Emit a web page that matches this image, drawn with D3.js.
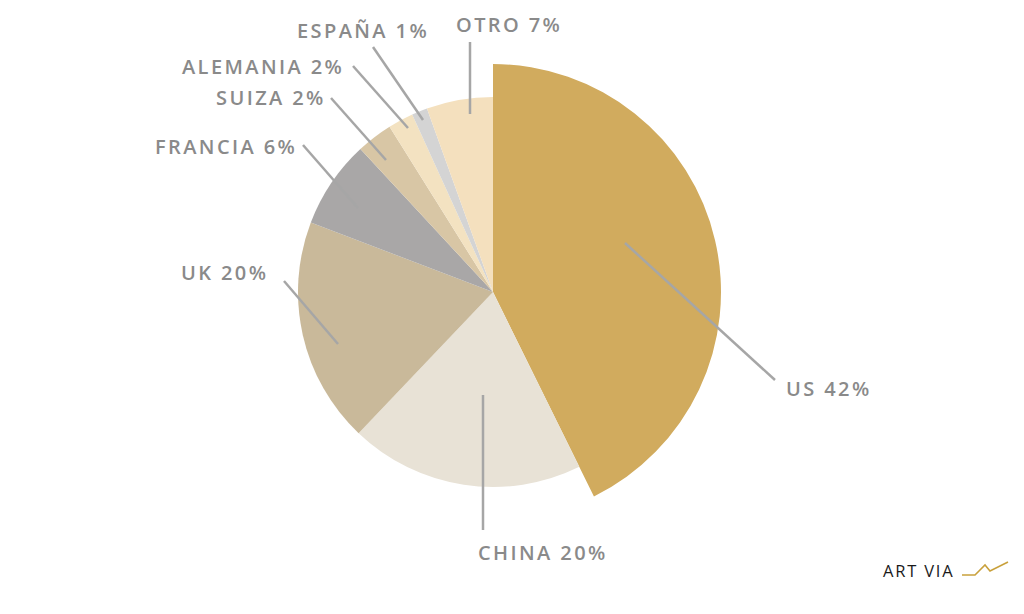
<!DOCTYPE html>
<html>
<head>
<meta charset="utf-8">
<script src="https://cdn.jsdelivr.net/npm/d3@7"></script>
<style>
  html, body { margin: 0; padding: 0; background: #ffffff; }
  svg { display: block; }
</style>
</head>
<body>
<svg id="chart" width="1024" height="614"></svg>
<script>
// ---- data ----
const categories = ["US", "CHINA", "UK", "FRANCIA", "SUIZA", "ALEMANIA", "ESPAÑA", "OTRO"];
const labelPercents = ["42%", "20%", "20%", "6%", "2%", "2%", "1%", "7%"];
// slice sizes
const values = [42.7, 19.4, 18.7, 7.3, 3.0, 2.1, 1.3, 5.5];

// ---- styles ----
const colors = ["#D1AB5E", "#E8E2D6", "#C9B99A", "#A9A7A7", "#D8C6A5", "#F3E2C1", "#D4D4D4", "#F4E0BE"];
const highlightIndex = 0;

// ---- layout ----
const cx = 493, cy = 292;
const rNormal = 195, rHighlight = 228;
// label anchors [x, y, text-anchor] and leader lines [x1, y1, x2, y2]
const labelPos = [
  [786, 396, "start"], [478, 560, "start"], [181, 280, "start"], [155, 154, "start"],
  [216, 105, "start"], [182, 74, "start"], [297, 38, "start"], [456, 32, "start"]
];
const leaders = [
  [625, 243, 775, 380], [483, 395, 483, 530], [338, 344, 284, 281], [358, 208, 303, 145],
  [386, 160, 331, 98], [408, 128, 353, 66], [423, 120, 373, 47], [470, 114, 470, 42]
];

const svg = d3.select("#chart");
const pie = d3.pie().sort(null).value(d => d.v).startAngle(0).endAngle(2 * Math.PI);
const data = categories.map((c, i) => ({ c, v: values[i], i }));
const arcs = pie(data);
const arc = d3.arc().innerRadius(0)
  .outerRadius(d => d.data.i === highlightIndex ? rHighlight : rNormal);

const g = svg.append("g").attr("transform", `translate(${cx},${cy})`);
g.selectAll("path").data(arcs).enter().append("path")
  .attr("d", arc)
  .attr("fill", d => colors[d.data.i]);

svg.append("g").selectAll("line").data(leaders).enter().append("line")
  .attr("x1", d => d[0]).attr("y1", d => d[1])
  .attr("x2", d => d[2]).attr("y2", d => d[3])
  .attr("stroke", "#A6A6A6").attr("stroke-width", 2.5).attr("stroke-linecap", "butt");

svg.append("g").selectAll("text").data(categories).enter().append("text")
  .attr("x", (d, i) => labelPos[i][0]).attr("y", (d, i) => labelPos[i][1])
  .attr("text-anchor", (d, i) => labelPos[i][2])
  .attr("font-family", "'Open Sans', 'DejaVu Sans', sans-serif")
  .attr("font-weight", 600)
  .attr("font-size", 20)
  .attr("letter-spacing", "2.4px")
  .attr("fill", "#8A8A8A")
  .text((d, i) => d + " " + labelPercents[i]);

// ---- logo ----
const logo = svg.append("g");
logo.append("text")
  .attr("x", 883).attr("y", 577)
  .attr("font-family", "'Open Sans', 'DejaVu Sans', sans-serif")
  .attr("font-weight", 400)
  .attr("font-size", 16.5)
  .attr("letter-spacing", "1.8px")
  .attr("fill", "#1a1a1a")
  .text("ART VIA");
const zig = [[962, 575], [975, 575], [985, 565], [990, 571], [1008, 562]];
logo.append("path")
  .attr("d", d3.line()(zig))
  .attr("fill", "none").attr("stroke", "#C9A13C").attr("stroke-width", 1.6);
</script>
</body>
</html>
